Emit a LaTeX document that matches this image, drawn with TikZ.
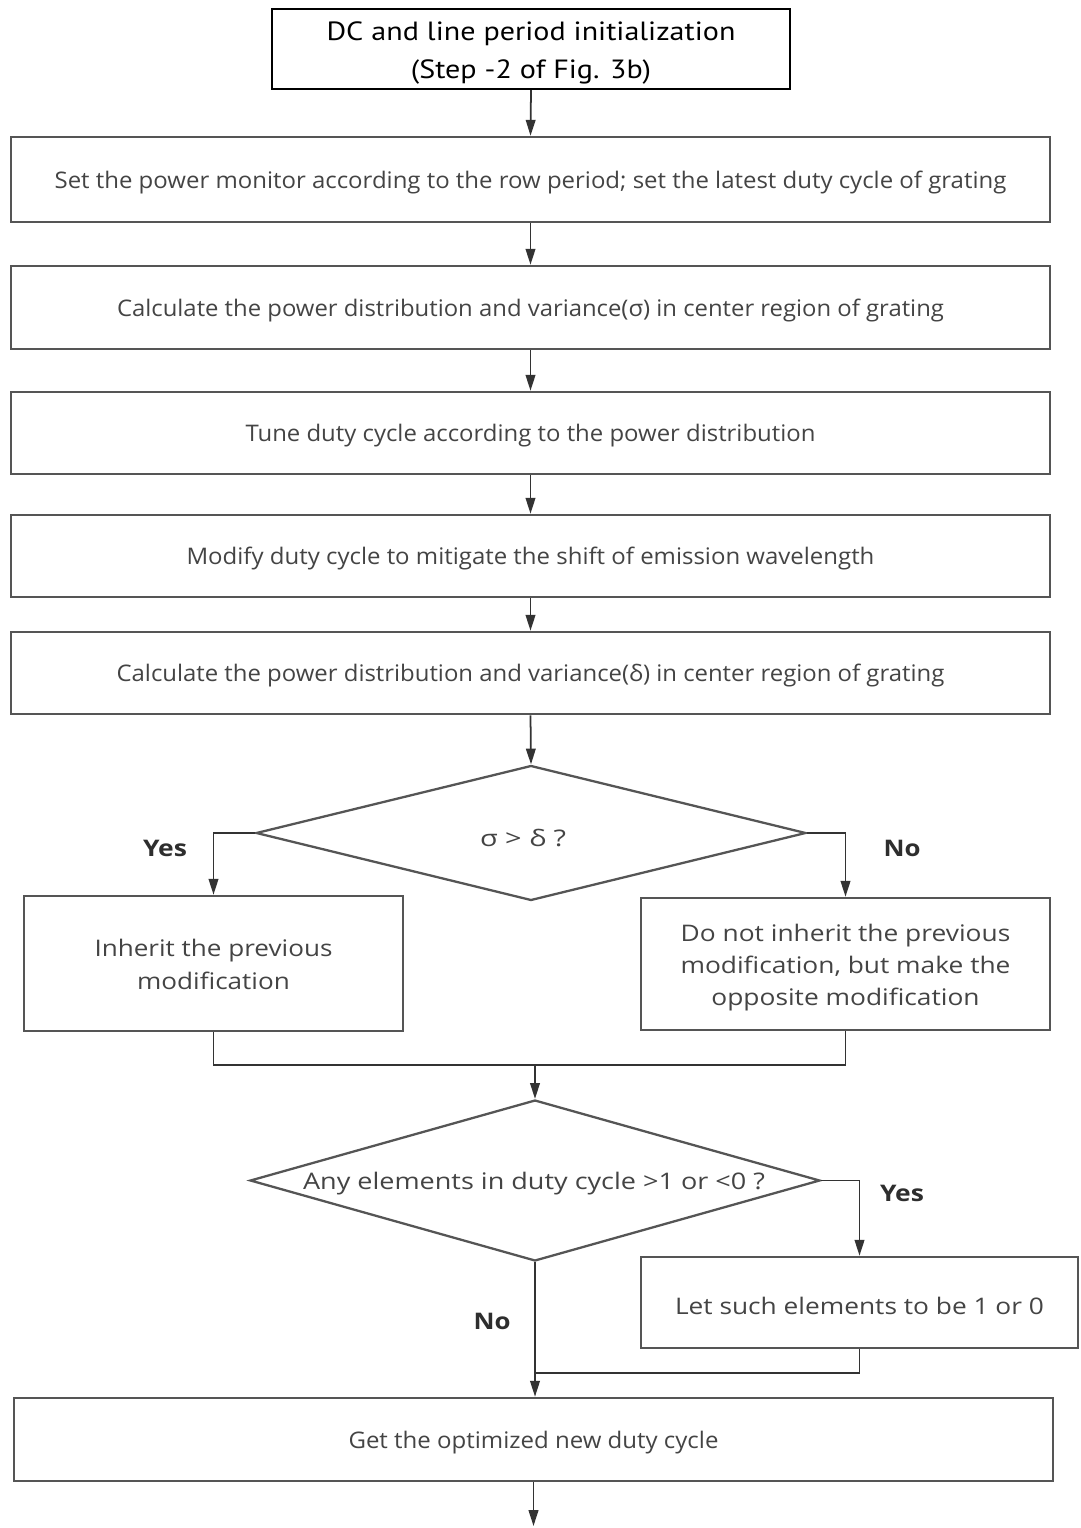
\documentclass[tikz,border=0pt]{standalone}
\usepackage{graphicx}
\usepackage{fontspec}
\setmainfont{Open Sans}
\newfontfamily\topfont{PT Sans}
\usetikzlibrary{shapes.geometric,arrows.meta}
\definecolor{boxc}{HTML}{555555}
\definecolor{linec}{HTML}{333333}
\definecolor{txtc}{HTML}{444444}
\definecolor{lblc}{HTML}{2E2E2E}
\newlength\fitlen
\newcommand\fitx[2]{\settowidth\fitlen{#2}\scalebox{\fpeval{#1*0.5690551/\fitlen}}[1]{#2}}
\newcommand\fitd[2]{\raisebox{-1.7pt}[\height][\depth]{\fitx{#1}{#2}}}
\newcommand\ml[1]{\begin{tabular}{@{}c@{}}#1\end{tabular}}
\begin{document}
\begin{tikzpicture}[x=0.02cm,y=-0.02cm,
  box/.style={draw=boxc, line width=1.5pt, fill=white, inner sep=0pt, text=txtc,
    font=\fontsize{13}{18.3}\selectfont, rectangle},
  topbox/.style={draw=black, line width=1.4pt, fill=white, inner sep=0pt, text=black,
    font=\topfont\fontsize{15}{21.6}\selectfont, rectangle},
  diam/.style={diamond, draw=boxc, line width=1.3pt, inner sep=0pt},
  dtext/.style={text=txtc, font=\fontsize{13}{18}\selectfont, inner sep=0pt},
  arr/.style={-{Triangle[length=9pt,width=5.5pt]}, line width=1pt, draw=linec},
  conn/.style={line width=1pt, draw=linec},
  lbl/.style={font=\bfseries\fontsize{13}{16}\selectfont, text=lblc, inner sep=0pt}]
\useasboundingbox (0,0) rectangle (1080,1528);
\fill[white] (0,0) rectangle (1080,1528);

\node[topbox, minimum width=10.36cm, minimum height=1.6cm] (top) at (531,49)
  {\fitd{409}{\ml{DC and line period initialization\\(Step -2 of Fig. 3b)}}};
\node[box, minimum width=20.78cm, minimum height=1.70cm] (b1) at (530.5,179.5)
  {\fitd{952}{Set the power monitor according to the row period; set the latest duty cycle of grating}};
\node[box, minimum width=20.78cm, minimum height=1.66cm] (b2) at (530.5,307.5)
  {\fitd{827}{Calculate the power distribution and variance(σ) in center region of grating}};
\node[box, minimum width=20.78cm, minimum height=1.64cm] (b3) at (530.5,433)
  {\fitd{570}{Tune duty cycle according to the power distribution}};
\node[box, minimum width=20.78cm, minimum height=1.64cm] (b4) at (530.5,556)
  {\fitd{688}{Modify duty cycle to mitigate the shift of emission wavelength}};
\node[box, minimum width=20.78cm, minimum height=1.64cm] (b5) at (530.5,673)
  {\fitd{828}{Calculate the power distribution and variance(δ) in center region of grating}};

\node[diam, minimum width=11.0cm, minimum height=2.7cm] (d1) at (531,833) {};
\node[dtext] (d1t) at (523,835) {\fitd{86}{σ > δ ?}};

\node[box, minimum width=7.58cm, minimum height=2.70cm] (inh) at (213.5,963.5)
  {\fitd{238}{\ml{Inherit the previous\\modification}}};
\node[box, minimum width=8.18cm, minimum height=2.64cm] (dn) at (845.5,964)
  {\fitd{330}{\ml{Do not inherit the previous\\modification, but make the\\opposite modification}}};

\node[diam, minimum width=11.4cm, minimum height=3.22cm] (d2) at (535,1180.5) {};
\node[dtext] (d2t) at (534,1181) {\fitd{462}{Any elements in duty cycle >1 or <0 ?}};

\node[box, minimum width=8.74cm, minimum height=1.82cm] (let) at (859.5,1302.5)
  {\fitd{369}{Let such elements to be 1 or 0}};
\node[box, minimum width=20.78cm, minimum height=1.66cm] (fin) at (533.5,1439.5)
  {\fitd{370}{Get the optimized new duty cycle}};

\node[lbl] (y1) at (165,848) {\fitx{44}{Yes}};
\node[lbl] (n1) at (902,848) {\fitx{37}{No}};
\node[lbl] (y2) at (902,1193) {\fitx{44}{Yes}};
\node[lbl] (n2) at (492,1321) {\fitx{37}{No}};

\coordinate (m) at (535,1065);
\coordinate (j) at (535,1373);
\coordinate (endp) at (533.5,1526);

\draw[arr] (top.south) -- (b1.north);
\draw[arr] (b1.south) -- (b2.north);
\draw[arr] (b2.south) -- (b3.north);
\draw[arr] (b3.south) -- (b4.north);
\draw[arr] (b4.south) -- (b5.north);
\draw[arr] (b5.south) -- (d1.north);
\draw[arr] (d1.west) -| (inh.north);
\draw[arr] (d1.east) -| (dn.north);
\draw[conn] (inh.south) |- (dn.south |- m) -- (dn.south);
\draw[arr] (m) -- (d2.north);
\draw[arr] (d2.east) -| (let.north);
\draw[arr] (d2.south) -- (d2.south |- fin.north);
\draw[conn] (let.south) |- (j);
\draw[arr] (fin.south) -- (endp);
\end{tikzpicture}
\end{document}
